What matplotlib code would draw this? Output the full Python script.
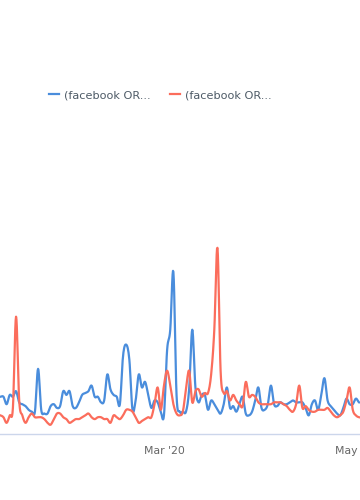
import numpy as np
import pandas as pd
import matplotlib
matplotlib.use("Agg")
import matplotlib.pyplot as plt
import matplotlib.dates as mdates

# daily interest values, 9 Jan 2020 onwards
start_date = "2020-01-09"
blue_label = "(facebook OR..."
red_label = "(facebook OR..."

blue_values = [20, 20, 16, 21, 20, 23, 17, 16, 15, 13, 12, 12, 35, 13, 11, 11, 15, 16, 14, 15,
               23, 21, 23, 15, 14, 17, 21, 22, 23, 26, 20, 20, 17, 18, 32, 24, 21, 20, 16, 42,
               48, 40, 13, 18, 32, 25, 28, 21, 14, 18, 17, 12, 10, 45, 56, 87, 21, 12, 12, 12,
               24, 56, 25, 17, 21, 21, 13, 18, 16, 13, 11, 16, 25, 14, 15, 12, 16, 20, 11, 10,
               12, 18, 25, 14, 13, 16, 26, 16, 15, 17, 16, 16, 17, 18, 17, 17, 17, 14, 10, 16,
               18, 13, 21, 30, 18, 15, 13, 11, 10, 14, 19, 16, 16, 19, 17]

red_values = [10, 9, 6, 10, 14, 63, 18, 10, 6, 9, 11, 9, 9, 9, 8, 6, 5, 8, 11, 11,
              9, 8, 6, 7, 8, 8, 9, 10, 11, 9, 8, 9, 9, 8, 8, 6, 10, 9, 8, 10,
              13, 13, 12, 9, 6, 7, 8, 9, 9, 16, 25, 13, 26, 34, 26, 16, 11, 10, 12, 24,
              34, 17, 23, 24, 20, 22, 22, 32, 56, 100, 34, 22, 23, 18, 21, 18, 16, 15, 28, 20,
              21, 20, 17, 16, 16, 16, 16, 17, 17, 17, 16, 15, 13, 12, 16, 26, 14, 15, 13, 12,
              12, 13, 13, 13, 14, 12, 10, 9, 10, 12, 18, 25, 13, 10, 9]

dates = pd.date_range(start_date, periods=len(blue_values), freq="D")


def smooth(x, y, n=8):
    # catmull-rom spline through the daily points
    x = np.asarray(x, dtype=float)
    y = np.asarray(y, dtype=float)
    xs, ys = [], []
    for i in range(len(x) - 1):
        y0 = y[i - 1] if i > 0 else y[i]
        y3 = y[i + 2] if i + 2 < len(y) else y[i + 1]
        t = np.linspace(0, 1, n, endpoint=False)
        m1 = (y[i + 1] - y0) / 2
        m2 = (y3 - y[i]) / 2
        h00 = 2 * t**3 - 3 * t**2 + 1
        h10 = t**3 - 2 * t**2 + t
        h01 = -2 * t**3 + 3 * t**2
        h11 = t**3 - t**2
        xs.append(x[i] + t * (x[i + 1] - x[i]))
        ys.append(h00 * y[i] + h10 * m1 + h01 * y[i + 1] + h11 * m2)
    xs.append([x[-1]])
    ys.append([y[-1]])
    return np.concatenate(xs), np.concatenate(ys)


xnum = mdates.date2num(dates)

fig = plt.figure(figsize=(3.6, 5.0), dpi=100)
ax = fig.add_axes([0, 0.132, 1, 0.648])

bx, by = smooth(xnum, blue_values)
rx, ry = smooth(xnum, red_values)
l1, = ax.plot(bx, by, color="#4a8ddc", lw=1.6, solid_joinstyle="round")
l2, = ax.plot(rx, ry, color="#fb6d5c", lw=1.6, solid_joinstyle="round")

ax.set_xlim(xnum[0] - 0.1, xnum[0] + 114.3)
ax.set_ylim(0, 174)

for s in ["top", "left", "right"]:
    ax.spines[s].set_visible(False)
ax.spines["bottom"].set_color("#ccd6eb")
ax.spines["bottom"].set_linewidth(1)
ax.set_yticks([])

tick_dates = pd.to_datetime(["2020-03-01", "2020-05-01"])
ax.set_xticks(mdates.date2num(tick_dates))
ax.set_xticklabels(["Mar '20", "May '20"])
ax.tick_params(axis="x", length=0, pad=9, labelsize=7.8, labelcolor="#666666")

fig.legend([l1, l2], [blue_label, red_label], loc="center", bbox_to_anchor=(0.445, 0.81),
           ncol=2, frameon=False, fontsize=8.1, handlelength=0.9, handletextpad=0.45,
           columnspacing=1.7, labelcolor="#4d5a66")

fig.savefig("out.png", dpi=100)
